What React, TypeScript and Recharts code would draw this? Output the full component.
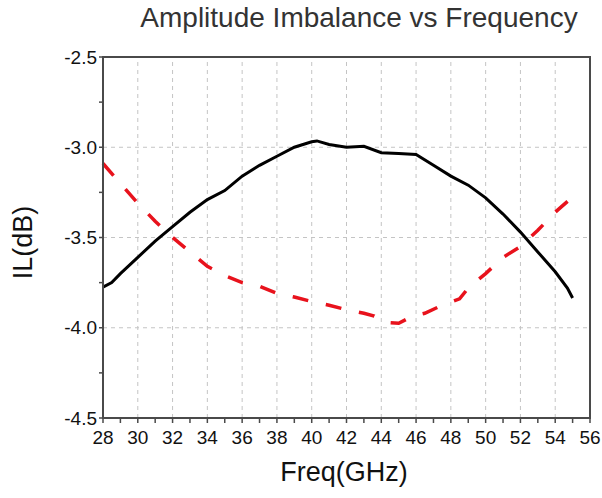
import React from "react";
import { LineChart, Line, XAxis, YAxis, ReferenceLine } from "recharts";

const blackFreq = [28, 28.5, 29, 30, 31, 32, 33, 34, 35, 36, 37, 38, 39, 40, 40.3, 41, 42, 43, 44, 45, 46, 47, 48, 49, 50, 51, 52, 53, 54, 54.7, 55];
const blackIL = [-3.775, -3.75, -3.7, -3.61, -3.52, -3.44, -3.36, -3.29, -3.24, -3.16, -3.1, -3.05, -3.0, -2.97, -2.965, -2.985, -3.0, -2.995, -3.03, -3.035, -3.04, -3.1, -3.16, -3.21, -3.28, -3.37, -3.47, -3.58, -3.69, -3.78, -3.835];

const redFreq = [28, 29, 30, 31, 32, 33, 34, 35, 36, 37, 38, 39, 40, 41, 42, 43, 43.6, 44.2, 45, 45.8, 46.5, 47.5, 48.5, 49, 50, 51, 52, 53, 54, 55];
const redIL = [-3.09, -3.2, -3.31, -3.41, -3.5, -3.58, -3.66, -3.71, -3.75, -3.77, -3.81, -3.83, -3.855, -3.875, -3.9, -3.92, -3.935, -3.97, -3.975, -3.935, -3.92, -3.875, -3.84, -3.78, -3.7, -3.61, -3.55, -3.46, -3.36, -3.275];

const xMajorTicks = [28, 30, 32, 34, 36, 38, 40, 42, 44, 46, 48, 50, 52, 54, 56];
const xAllTicks = [28, 29, 30, 31, 32, 33, 34, 35, 36, 37, 38, 39, 40, 41, 42, 43, 44, 45, 46, 47, 48, 49, 50, 51, 52, 53, 54, 55, 56];
const yMajorTicks = [-4.5, -4.0, -3.5, -3.0, -2.5];
const yAllTicks = [-4.5, -4.25, -4.0, -3.75, -3.5, -3.25, -3.0, -2.75, -2.5];

const blackData = blackFreq.map((f, i) => ({ freq: f, il: blackIL[i] }));
const redData = redFreq.map((f, i) => ({ freq: f, il: redIL[i] }));

const FONT = "'Liberation Sans', Arial, sans-serif";
const AXIS = "#4a4a4a";
const GRID = "#c4c4c4";

// plot box (matches chart margins + axis sizes below)
const PLOT = { left: 103, top: 57, right: 590, bottom: 418 };

const isMajorX = (v: number) => v % 2 === 0;
const isMajorY = (v: number) => Math.abs(v * 2 - Math.round(v * 2)) < 1e-6;

const tickStyle = { fontSize: 19, fill: "#111", fontFamily: FONT };

export default function App() {
  return (
    <div style={{ position: "absolute", left: 0, top: 0, width: 602, height: 498, background: "#fff", fontFamily: FONT }}>
      <LineChart width={602} height={498} margin={{ top: 37, right: 0, bottom: 0, left: 0 }}>
        <XAxis
          dataKey="freq"
          type="number"
          domain={[28, 56]}
          ticks={xAllTicks}
          interval={0}
          height={80}
          tickSize={5}
          tickMargin={8}
          tickFormatter={(v: number) => (isMajorX(v) ? String(v) : "")}
          tick={tickStyle}
          tickLine={{ stroke: AXIS, strokeWidth: 1.5 }}
          axisLine={{ stroke: AXIS, strokeWidth: 2 }}
        />
        <XAxis
          xAxisId="top"
          orientation="top"
          dataKey="freq"
          type="number"
          domain={[28, 56]}
          height={20}
          tick={false}
          tickLine={false}
          axisLine={{ stroke: AXIS, strokeWidth: 1.5 }}
        />
        <YAxis
          type="number"
          domain={[-4.5, -2.5]}
          ticks={yAllTicks}
          interval={0}
          width={103}
          tickSize={4}
          tickMargin={2}
          tickFormatter={(v: number) => (isMajorY(v) ? v.toFixed(1) : "")}
          tick={tickStyle}
          tickLine={{ stroke: AXIS, strokeWidth: 1.5 }}
          axisLine={{ stroke: AXIS, strokeWidth: 2 }}
        />
        <YAxis
          yAxisId="right"
          orientation="right"
          type="number"
          domain={[-4.5, -2.5]}
          width={12}
          tick={false}
          tickLine={false}
          axisLine={{ stroke: AXIS, strokeWidth: 1.5 }}
        />
        {xMajorTicks.slice(1, -1).map((v) => (
          <ReferenceLine key={`gx${v}`} x={v} stroke={GRID} strokeDasharray="4 4" />
        ))}
        {yMajorTicks.slice(1, -1).map((v) => (
          <ReferenceLine key={`gy${v}`} y={v} stroke={GRID} strokeDasharray="4 4" />
        ))}
        <Line
          data={redData}
          dataKey="il"
          type="linear"
          stroke="#e8121c"
          strokeWidth={3.5}
          strokeDasharray="16 18"
          dot={false}
          isAnimationActive={false}
        />
        <Line
          data={blackData}
          dataKey="il"
          type="linear"
          stroke="#000"
          strokeWidth={3}
          dot={false}
          isAnimationActive={false}
        />
      </LineChart>
      {/* frame around the plot area */}
      <div
        style={{
          position: "absolute",
          left: PLOT.left - 1,
          top: PLOT.top - 1,
          width: PLOT.right - PLOT.left + 2,
          height: PLOT.bottom - PLOT.top + 2,
          boxSizing: "border-box",
          borderLeft: `2px solid ${AXIS}`,
          borderTop: `2px solid ${AXIS}`,
          borderRight: `2px solid ${AXIS}`,
          pointerEvents: "none",
        }}
      />
      <div style={{ position: "absolute", left: 59, top: 4, width: 600, textAlign: "center", fontSize: 28, lineHeight: "28px", color: "#333", whiteSpace: "nowrap" }}>
        Amplitude Imbalance vs Frequency
      </div>
      <div style={{ position: "absolute", left: 244, top: 459, width: 200, textAlign: "center", fontSize: 27, lineHeight: "27px", color: "#111" }}>
        Freq(GHz)
      </div>
      <div
        style={{
          position: "absolute",
          left: -77,
          top: 229,
          width: 200,
          height: 27,
          textAlign: "center",
          fontSize: 27,
          lineHeight: "27px",
          color: "#111",
          transform: "rotate(-90deg)",
          transformOrigin: "center",
        }}
      >
        IL(dB)
      </div>
    </div>
  );
}
